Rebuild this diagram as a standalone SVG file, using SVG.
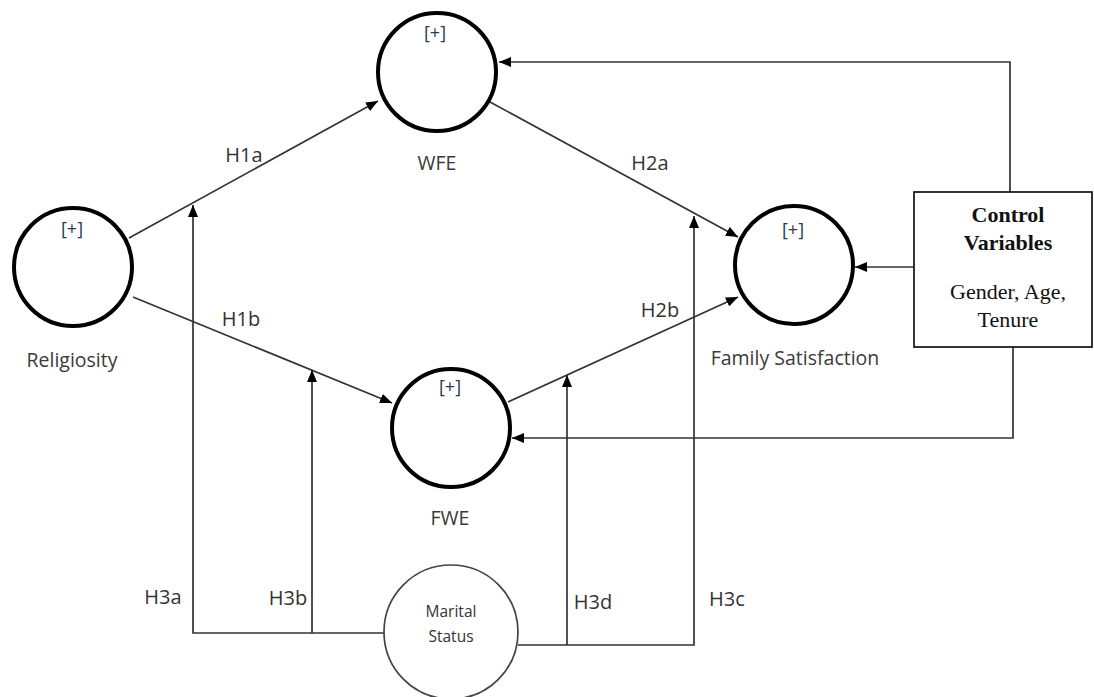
<svg xmlns="http://www.w3.org/2000/svg" width="1094" height="697" viewBox="0 0 1094 697">
<style>
.lat{fill:#fff;stroke:#000;stroke-width:4}
.lbl{font-family:"Open Sans","Noto Sans",sans-serif;font-size:19.5px;fill:#3a3a3a;text-anchor:middle}
.plus{font-family:"Open Sans","Noto Sans",sans-serif;font-size:18px;fill:#2a3a55;text-anchor:middle}
.hyp{font-family:"Open Sans","Noto Sans",sans-serif;font-size:20px;fill:#333;text-anchor:middle}
.ms{font-family:"Open Sans","Noto Sans",sans-serif;font-size:15.5px;fill:#333;text-anchor:middle}
.ln{fill:none;stroke:#333;stroke-width:1.7}
.ser{font-family:"Liberation Serif",serif;font-size:22px;fill:#111;text-anchor:middle}
</style>
<defs>
<marker id="ah" viewBox="0 0 12 10" refX="12" refY="5" markerWidth="12" markerHeight="10" markerUnits="userSpaceOnUse" orient="auto">
<path d="M0,0 L12,5 L0,10 Z" fill="#000"/>
</marker>
</defs>
<g id="connectors">
<line class="ln" x1="129" y1="238" x2="378" y2="101" marker-end="url(#ah)"/>
<line class="ln" x1="133" y1="297" x2="392" y2="403" marker-end="url(#ah)"/>
<line class="ln" x1="490" y1="102" x2="738" y2="237" marker-end="url(#ah)"/>
<line class="ln" x1="508" y1="402" x2="738" y2="297" marker-end="url(#ah)"/>
<polyline class="ln" points="1010,192 1010,62 499,62" marker-end="url(#ah)"/>
<line class="ln" x1="914" y1="267" x2="855" y2="267" marker-end="url(#ah)"/>
<polyline class="ln" points="1013,347 1013,438 512,438" marker-end="url(#ah)"/>
<polyline class="ln" points="384,633 193,633 193,205" marker-end="url(#ah)"/>
<line class="ln" x1="312" y1="633" x2="312" y2="370" marker-end="url(#ah)"/>
<polyline class="ln" points="518,645 694,645 694,216" marker-end="url(#ah)"/>
<line class="ln" x1="567" y1="645" x2="567" y2="375" marker-end="url(#ah)"/>
<text class="hyp" x="244" y="162">H1a</text>
<text class="hyp" x="241" y="326">H1b</text>
<text class="hyp" x="650" y="170">H2a</text>
<text class="hyp" x="660" y="317">H2b</text>
<text class="hyp" x="163" y="604">H3a</text>
<text class="hyp" x="288" y="605">H3b</text>
<text class="hyp" x="593" y="609">H3d</text>
<text class="hyp" x="727" y="606">H3c</text>
</g>
<g id="wfe">
<circle class="lat" cx="437" cy="72" r="59"/>
<text class="plus" x="435" y="39">[+]</text>
<text class="lbl" x="437" y="170">WFE</text>
</g>
<g id="religiosity">
<circle class="lat" cx="73" cy="267" r="59"/>
<text class="plus" x="72" y="235">[+]</text>
<text class="lbl" x="72" y="367">Religiosity</text>
</g>
<g id="family-satisfaction">
<circle class="lat" cx="794" cy="265" r="59"/>
<text class="plus" x="793" y="236">[+]</text>
<text class="lbl" x="795" y="365">Family Satisfaction</text>
</g>
<g id="fwe">
<circle class="lat" cx="451" cy="428" r="59"/>
<text class="plus" x="450" y="393">[+]</text>
<text class="lbl" x="450" y="525">FWE</text>
</g>
<g id="control">
<rect x="914" y="192" width="178" height="155" fill="#fff" stroke="#111" stroke-width="1.7"/>
<text class="ser" x="1008" y="222" font-weight="bold">Control</text>
<text class="ser" x="1008" y="250" font-weight="bold">Variables</text>
<text class="ser" x="1008" y="299">Gender, Age,</text>
<text class="ser" x="1008" y="327">Tenure</text>
</g>
<g id="marital">
<circle cx="451" cy="632" r="67" fill="#fff" stroke="#444" stroke-width="1.7"/>
<text class="ms" x="451" y="617">Marital</text>
<text class="ms" x="451" y="642">Status</text>
</g>
</svg>
